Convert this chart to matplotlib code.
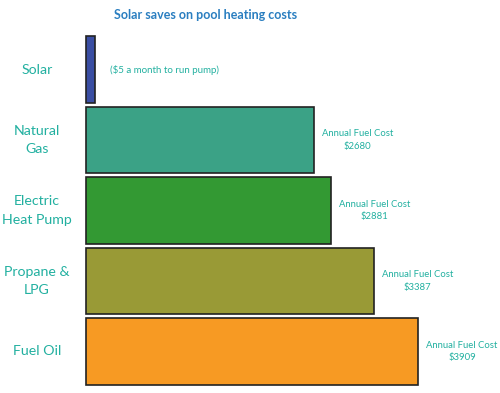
import matplotlib.pyplot as plt
import matplotlib.transforms as mtransforms

plt.rcParams['font.family'] = ['Lato', 'DejaVu Sans']

categories = ['Solar', 'Natural\nGas', 'Electric\nHeat Pump', 'Propane &\nLPG', 'Fuel Oil']
costs = [105, 2680, 2881, 3387, 3909]
notes = ['($5 a month to run pump)', 'Annual Fuel Cost\n$2680', 'Annual Fuel Cost\n$2881',
         'Annual Fuel Cost\n$3387', 'Annual Fuel Cost\n$3909']
colors = ['#3a4ea3', '#3ba286', '#339933', '#999a36', '#f79a23']

teal = '#22b0a0'

fig = plt.figure(figsize=(5, 3.93), dpi=100)
ax = fig.add_axes([0, 0, 1, 1])
ypos = list(range(len(categories)))
ax.barh(ypos, costs, height=0.95, left=0, color=colors, edgecolor='#222222', linewidth=1.2)

ax.set_xlim(-1012, 4871)
ax.set_ylim(4.589, -0.986)
ax.axis('off')

trans = mtransforms.blended_transform_factory(ax.transAxes, ax.transData)
for i, lab in enumerate(categories):
    ax.text(37 / 500, i, lab, transform=trans, ha='center', va='center',
            color=teal, fontsize=10.2, linespacing=1.65)

for i, (c, n) in enumerate(zip(costs, notes)):
    if i == 0:
        ax.annotate(n, (c, i), xytext=(15, 0), textcoords='offset pixels',
                    ha='left', va='center', color=teal, fontsize=7)
    else:
        ax.annotate(n, (c, i), xytext=(8, 0), textcoords='offset pixels',
                    ha='left', va='center', color=teal, fontsize=6.8,
                    multialignment='center', linespacing=1.45)

fig.text(206 / 500, 1 - 15 / 393, 'Solar saves on pool heating costs', ha='center', va='center',
         color='#2a7ec0', fontsize=9, fontweight='bold')

fig.savefig('out.png', dpi=100)
